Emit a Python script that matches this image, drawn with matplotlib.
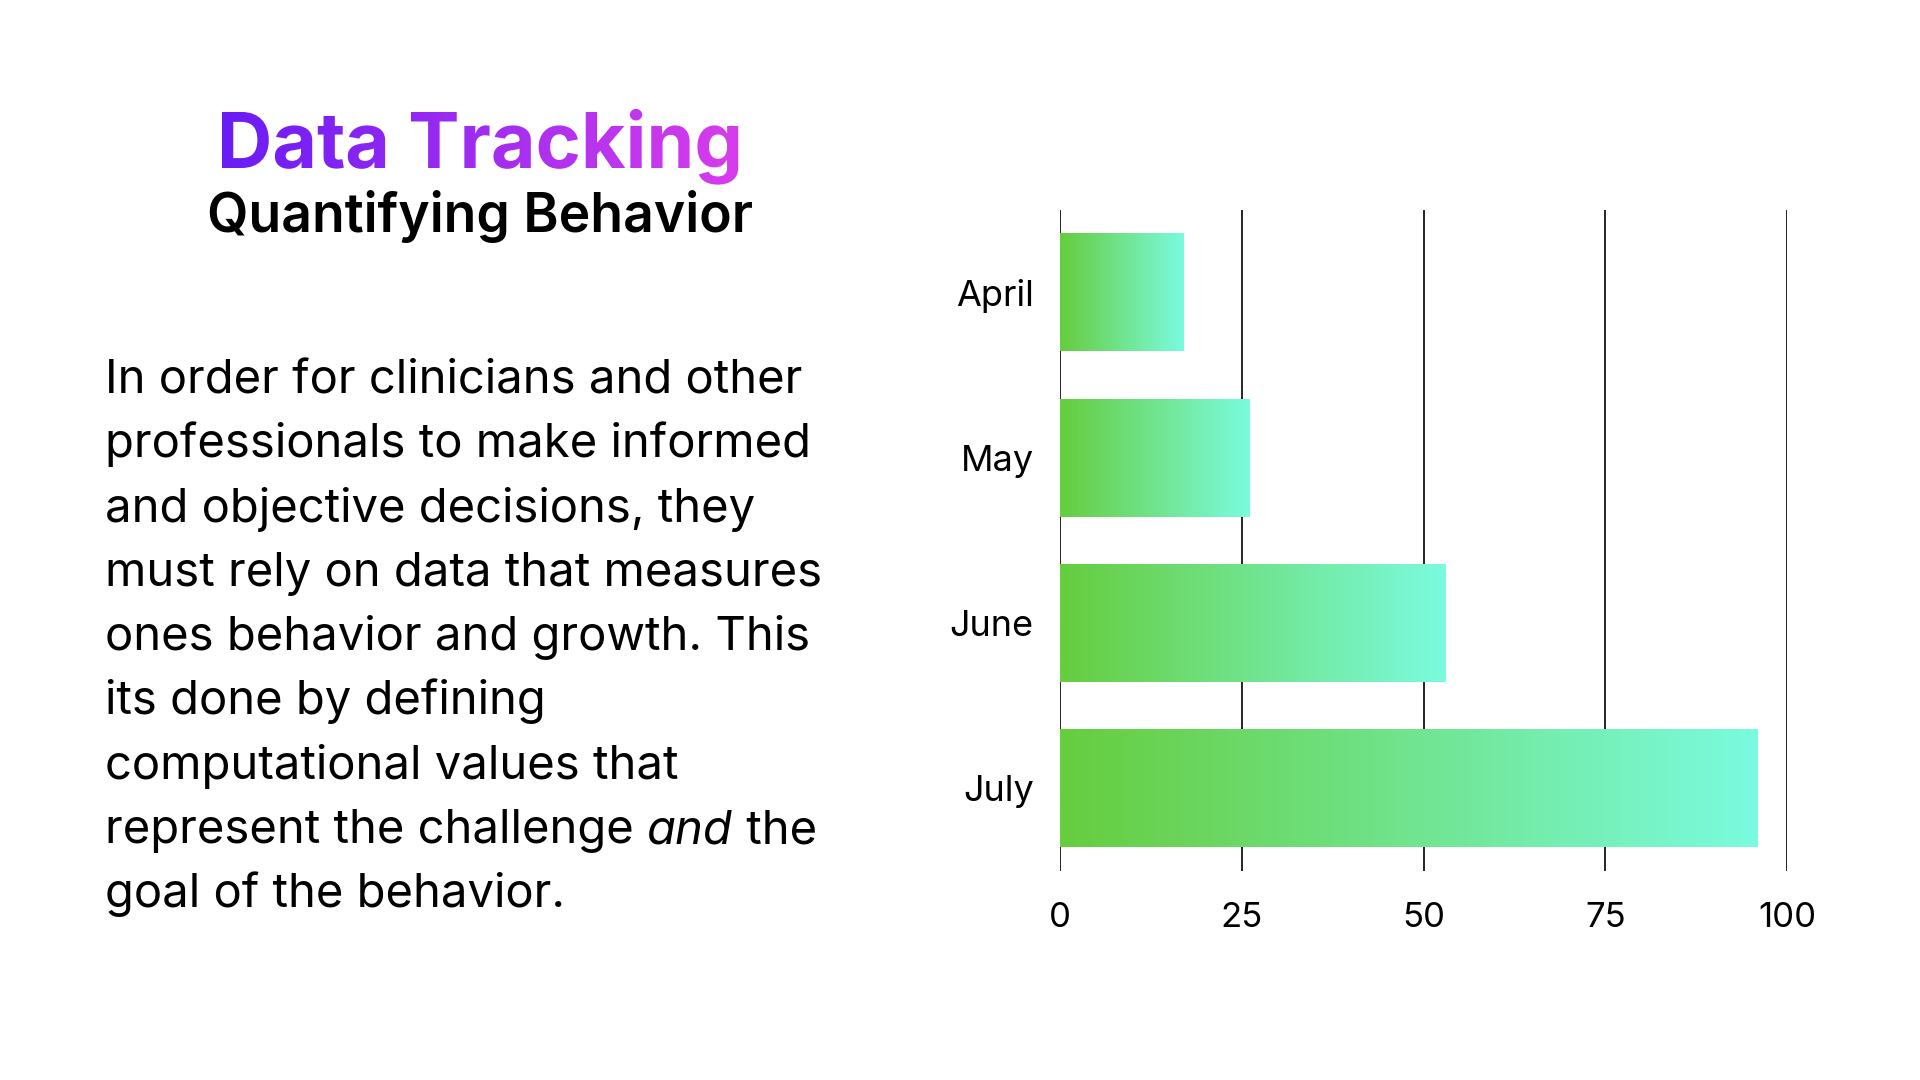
import numpy as np
import matplotlib
matplotlib.use("Agg")
import matplotlib.pyplot as plt
from matplotlib.textpath import TextPath
from matplotlib.font_manager import FontProperties
from matplotlib.patches import PathPatch
from matplotlib.colors import LinearSegmentedColormap
from matplotlib.transforms import Affine2D

# Data
months = ["April", "May", "June", "July"]
values = [17, 26, 53, 96]
x_ticks = [0, 25, 50, 75, 100]

title = "Data Tracking"
subtitle = "Quantifying Behavior"
body_lines = [
    "In order for clinicians and other",
    "professionals to make informed",
    "and objective decisions, they",
    "must rely on data that measures",
    "ones behavior and growth. This",
    "its done by defining",
    "computational values that",
    ["represent the challenge ", ("and", "italic"), " the"],
    "goal of the behavior.",
]

FONT = "Inter"
plt.rcParams["font.family"] = [FONT, "DejaVu Sans"]

fig = plt.figure(figsize=(19.2, 10.8), dpi=100)
fig.patch.set_facecolor("white")

# background axes in pixel units for the text side
bg = fig.add_axes([0, 0, 1, 1])
bg.set_xlim(0, 1920)
bg.set_ylim(1080, 0)
bg.axis("off")

# gradient title
title_cmap = LinearSegmentedColormap.from_list("tt", ["#6a1cf5", "#d83dec"])
tp = TextPath((0, 0), title, size=77, prop=FontProperties(family=FONT, weight="bold"))
ext = tp.get_extents()
cx, base = 480, 168
tr = Affine2D().translate(-(ext.x0 + ext.x1) / 2, 0).scale(1, -1).translate(cx, base)
tpath = tr.transform_path(tp)
patch = PathPatch(tpath, facecolor="none", edgecolor="none")
bg.add_patch(patch)
b = tpath.get_extents()
grad = np.linspace(0, 1, 256).reshape(1, -1)
im = bg.imshow(grad, cmap=title_cmap, extent=[b.x0, b.x1, b.y1, b.y0], aspect="auto")
im.set_clip_path(patch)
bg.set_xlim(0, 1920)
bg.set_ylim(1080, 0)

bg.text(480, 232, subtitle, fontsize=38.5, fontweight="semibold", ha="center",
        va="baseline", color="black")

# body text
fig.canvas.draw()
renderer = fig.canvas.get_renderer()
body_size = 34
y0, dy = 393, 64.3
for i, line in enumerate(body_lines):
    y = y0 + i * dy
    if isinstance(line, str):
        bg.text(105, y, line, fontsize=body_size, va="baseline", color="black")
    else:
        x = 105
        for part in line:
            if isinstance(part, tuple):
                s, style = part
            else:
                s, style = part, "normal"
            t = bg.text(x, y, s, fontsize=body_size, va="baseline", style=style,
                        color="black")
            x += t.get_window_extent(renderer).width

# bar chart
ax = fig.add_axes([1060 / 1920, 1 - 871 / 1080, 727 / 1920, 661 / 1080])
bar_cmap = LinearSegmentedColormap.from_list("bb", ["#66cd3e", "#7bfbdf"])
h = 0.71
for i, v in enumerate(values):
    ax.imshow(grad, cmap=bar_cmap, extent=[0, v, i + h / 2, i - h / 2],
              aspect="auto", zorder=3)
ax.set_xlim(0, 100)
ax.set_ylim(len(months) - 0.5, -0.5)
ax.set_xticks(x_ticks)
ax.set_yticks(range(len(months)))
ax.set_yticklabels(months)
for s in ax.spines.values():
    s.set_visible(False)
for t in x_ticks:
    ax.axvline(t, color="black", lw=1.2, zorder=1)
ax.tick_params(axis="both", length=0, labelsize=25)
ax.tick_params(axis="x", pad=22)
ax.tick_params(axis="y", pad=19, labelsize=26)

fig.savefig("out.png", dpi=100, facecolor="white")
